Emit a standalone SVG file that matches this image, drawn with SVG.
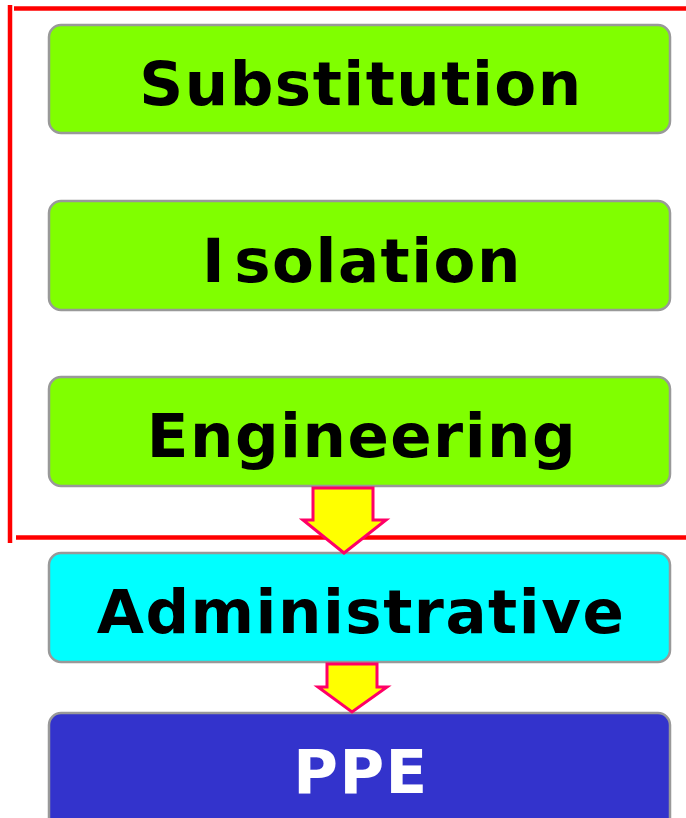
<svg xmlns="http://www.w3.org/2000/svg" width="686" height="818" viewBox="0 0 686 818">
<style>
.box{stroke:#999999;stroke-width:2.5}
.lbl{font-family:"DejaVu Sans",Verdana,sans-serif;font-weight:bold;font-size:61px;letter-spacing:1.5px;text-anchor:middle;fill:#000}
.frame{stroke:#ff0000;stroke-width:4.5;fill:none}
.arrow{fill:#ffff00;stroke:#ff0066;stroke-width:3;stroke-linejoin:miter}
</style>
<rect width="686" height="818" fill="#ffffff"/>
<g id="frame">
<line class="frame" x1="10" y1="5" x2="10" y2="543"/>
<line class="frame" x1="14" y1="8.5" x2="686" y2="8.5"/>
<line class="frame" x1="16" y1="537.5" x2="686" y2="537.5"/>
</g>
<g id="substitution">
<rect class="box" x="49" y="25" width="621" height="108" rx="12" fill="#80ff00"/>
<text class="lbl" x="361" y="104.5">Substitution</text>
</g>
<g id="isolation">
<rect class="box" x="49" y="201" width="621" height="109" rx="12" fill="#80ff00"/>
<text class="lbl" x="362" y="282">I<tspan dx="8">solation</tspan></text>
</g>
<g id="engineering">
<rect class="box" x="49" y="377" width="621" height="109" rx="12" fill="#80ff00"/>
<text class="lbl" x="362" y="457">Engineering</text>
</g>
<g id="administrative">
<rect class="box" x="49" y="553" width="621" height="109" rx="12" fill="#00ffff"/>
<text class="lbl" x="361" y="633">Administrative</text>
</g>
<g id="ppe">
<rect class="box" x="49" y="713" width="621" height="120" rx="12" fill="#3333cc"/>
<text class="lbl" x="361" y="793" style="fill:#ffffff">PPE</text>
</g>
<g id="connectors">
<polygon class="arrow" points="313,488 373,488 373,520 386,520 344,553 303,520 313,520"/>
<polygon class="arrow" points="327,664 377,664 377,687 387,687 352,712 318,687 327,687"/>
</g>
</svg>
